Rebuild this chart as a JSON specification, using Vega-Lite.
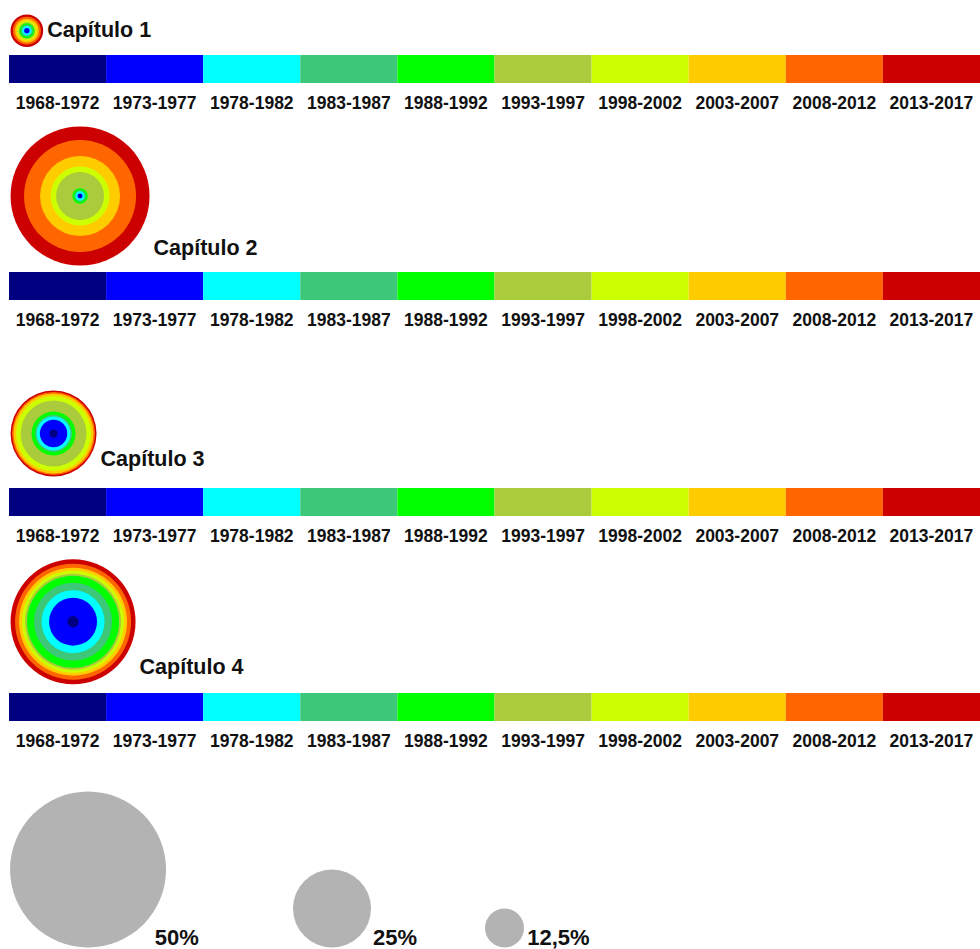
{
  "$schema": "https://vega.github.io/schema/vega-lite/v6.json",
  "background": "white",
  "padding": {"left": 9, "top": 0, "right": 0, "bottom": 0},
  "spacing": 0,
  "config": {
    "view": {"stroke": null},
    "concat": {"spacing": 0},
    "font": "Liberation Sans",
    "text": {"font": "Liberation Sans"}
  },
  "datasets": {
    "periodos": [
      {"periodo": "1968-1972"}, {"periodo": "1973-1977"}, {"periodo": "1978-1982"}, {"periodo": "1983-1987"}, {"periodo": "1988-1992"},
      {"periodo": "1993-1997"}, {"periodo": "1998-2002"}, {"periodo": "2003-2007"}, {"periodo": "2008-2012"}, {"periodo": "2013-2017"}
    ],
    "capitulos": [
      {"capitulo": "Capítulo 1", "periodo": "1968-1972", "acumulado": 0.51},
      {"capitulo": "Capítulo 1", "periodo": "1973-1977", "acumulado": 1.73},
      {"capitulo": "Capítulo 1", "periodo": "1978-1982", "acumulado": 3.08},
      {"capitulo": "Capítulo 1", "periodo": "1983-1987", "acumulado": 3.85},
      {"capitulo": "Capítulo 1", "periodo": "1988-1992", "acumulado": 4.81},
      {"capitulo": "Capítulo 1", "periodo": "1993-1997", "acumulado": 5.45},
      {"capitulo": "Capítulo 1", "periodo": "1998-2002", "acumulado": 6.22},
      {"capitulo": "Capítulo 1", "periodo": "2003-2007", "acumulado": 7.56},
      {"capitulo": "Capítulo 1", "periodo": "2008-2012", "acumulado": 8.97},
      {"capitulo": "Capítulo 1", "periodo": "2013-2017", "acumulado": 10.45},
      {"capitulo": "Capítulo 2", "periodo": "1968-1972", "acumulado": 0.83},
      {"capitulo": "Capítulo 2", "periodo": "1973-1977", "acumulado": 1.6},
      {"capitulo": "Capítulo 2", "periodo": "1978-1982", "acumulado": 3.01},
      {"capitulo": "Capítulo 2", "periodo": "1983-1987", "acumulado": 3.65},
      {"capitulo": "Capítulo 2", "periodo": "1988-1992", "acumulado": 4.94},
      {"capitulo": "Capítulo 2", "periodo": "1993-1997", "acumulado": 15.38},
      {"capitulo": "Capítulo 2", "periodo": "1998-2002", "acumulado": 18.91},
      {"capitulo": "Capítulo 2", "periodo": "2003-2007", "acumulado": 25.64},
      {"capitulo": "Capítulo 2", "periodo": "2008-2012", "acumulado": 35.9},
      {"capitulo": "Capítulo 2", "periodo": "2013-2017", "acumulado": 44.55},
      {"capitulo": "Capítulo 3", "periodo": "1968-1972", "acumulado": 2.56},
      {"capitulo": "Capítulo 3", "periodo": "1973-1977", "acumulado": 8.78},
      {"capitulo": "Capítulo 3", "periodo": "1978-1982", "acumulado": 10.9},
      {"capitulo": "Capítulo 3", "periodo": "1983-1987", "acumulado": 11.86},
      {"capitulo": "Capítulo 3", "periodo": "1988-1992", "acumulado": 14.1},
      {"capitulo": "Capítulo 3", "periodo": "1993-1997", "acumulado": 21.15},
      {"capitulo": "Capítulo 3", "periodo": "1998-2002", "acumulado": 24.04},
      {"capitulo": "Capítulo 3", "periodo": "2003-2007", "acumulado": 25.64},
      {"capitulo": "Capítulo 3", "periodo": "2008-2012", "acumulado": 26.6},
      {"capitulo": "Capítulo 3", "periodo": "2013-2017", "acumulado": 27.56},
      {"capitulo": "Capítulo 4", "periodo": "1968-1972", "acumulado": 3.65},
      {"capitulo": "Capítulo 4", "periodo": "1973-1977", "acumulado": 15.38},
      {"capitulo": "Capítulo 4", "periodo": "1978-1982", "acumulado": 20.19},
      {"capitulo": "Capítulo 4", "periodo": "1983-1987", "acumulado": 25.0},
      {"capitulo": "Capítulo 4", "periodo": "1988-1992", "acumulado": 29.49},
      {"capitulo": "Capítulo 4", "periodo": "1993-1997", "acumulado": 30.77},
      {"capitulo": "Capítulo 4", "periodo": "1998-2002", "acumulado": 32.69},
      {"capitulo": "Capítulo 4", "periodo": "2003-2007", "acumulado": 34.62},
      {"capitulo": "Capítulo 4", "periodo": "2008-2012", "acumulado": 37.18},
      {"capitulo": "Capítulo 4", "periodo": "2013-2017", "acumulado": 40.06}
    ],
    "escala": [
      {"etiqueta": "50%", "valor": 50},
      {"etiqueta": "25%", "valor": 25},
      {"etiqueta": "12,5%", "valor": 12.5}
    ]
  },
  "vconcat": [
    {
      "width": 971, "height": 55,
      "data": {"name": "capitulos"},
      "transform": [{"filter": "datum.capitulo === 'Capítulo 1'"}],
      "layer": [
        {
          "transform": [{"joinaggregate": [{"op": "max", "field": "acumulado", "as": "total"}]}],
          "mark": {"type": "point", "filled": true, "shape": "circle", "opacity": 1, "strokeWidth": 0},
          "encoding": {
            "x": {"field": "total", "type": "quantitative", "scale": {"domain": [-1, 621.4], "nice": false, "zero": false}, "axis": null},
            "y": {"field": "total", "type": "quantitative", "scale": {"domain": [-5.128, 30.128], "nice": false, "zero": false}, "axis": null},
            "size": {"field": "acumulado", "type": "quantitative", "scale": {"type": "pow", "exponent": 2, "domain": [0, 50], "range": [0, 24336]}, "legend": null},
            "color": {"field": "periodo", "type": "nominal", "legend": null, "scale": {"domain": ["1968-1972","1973-1977","1978-1982","1983-1987","1988-1992","1993-1997","1998-2002","2003-2007","2008-2012","2013-2017"], "range": ["#000080","#0000FF","#00FFFF","#3CC878","#00FF00","#AACC3C","#CCFF00","#FFCC00","#FF6600","#CC0000"]}},
            "order": {"field": "acumulado", "sort": "descending"}
          }
        },
        {
          "transform": [{"aggregate": [{"op": "max", "field": "acumulado", "as": "total"}], "groupby": ["capitulo"]}],
          "mark": {"type": "text", "align": "left", "baseline": "alphabetic", "dx": 4, "dy": -10, "fontSize": 21.5, "fontWeight": "bold", "color": "#111111"},
          "encoding": {
            "x": {"field": "total", "type": "quantitative", "scale": {"domain": [-0.5, 310.7], "nice": false, "zero": false}, "axis": null},
            "y": {"datum": 0, "type": "quantitative"},
            "text": {"field": "capitulo"}
          }
        }
      ],
      "resolve": {"scale": {"x": "independent"}}
    },
    {
      "width": 971, "height": 28,
      "data": {"name": "periodos"},
      "mark": {"type": "rect"},
      "encoding": {
        "x": {"field": "periodo", "type": "nominal", "scale": {"paddingInner": 0, "paddingOuter": 0},
              "axis": {"orient": "bottom", "title": null, "labelAngle": 0, "labelFontSize": 17.5, "labelFontWeight": "bold", "labelColor": "#111111", "labelPadding": 11, "ticks": false, "tickSize": 0, "domain": false, "labelOverlap": false, "labelFont": "Liberation Sans"}},
        "color": {"field": "periodo", "type": "nominal", "legend": null, "scale": {"domain": ["1968-1972","1973-1977","1978-1982","1983-1987","1988-1992","1993-1997","1998-2002","2003-2007","2008-2012","2013-2017"], "range": ["#000080","#0000FF","#00FFFF","#3CC878","#00FF00","#AACC3C","#CCFF00","#FFCC00","#FF6600","#CC0000"]}}
      }
    },
    {
      "width": 971, "height": 160,
      "data": {"name": "capitulos"},
      "transform": [{"filter": "datum.capitulo === 'Capítulo 2'"}],
      "layer": [
        {
          "transform": [{"joinaggregate": [{"op": "max", "field": "acumulado", "as": "total"}]}],
          "mark": {"type": "point", "filled": true, "shape": "circle", "opacity": 1, "strokeWidth": 0},
          "encoding": {
            "x": {"field": "total", "type": "quantitative", "scale": {"domain": [-1, 621.4], "nice": false, "zero": false}, "axis": null},
            "y": {"field": "total", "type": "quantitative", "scale": {"domain": [-4.167, 98.397], "nice": false, "zero": false}, "axis": null},
            "size": {"field": "acumulado", "type": "quantitative", "scale": {"type": "pow", "exponent": 2, "domain": [0, 50], "range": [0, 24336]}, "legend": null},
            "color": {"field": "periodo", "type": "nominal", "legend": null, "scale": {"domain": ["1968-1972","1973-1977","1978-1982","1983-1987","1988-1992","1993-1997","1998-2002","2003-2007","2008-2012","2013-2017"], "range": ["#000080","#0000FF","#00FFFF","#3CC878","#00FF00","#AACC3C","#CCFF00","#FFCC00","#FF6600","#CC0000"]}},
            "order": {"field": "acumulado", "sort": "descending"}
          }
        },
        {
          "transform": [{"aggregate": [{"op": "max", "field": "acumulado", "as": "total"}], "groupby": ["capitulo"]}],
          "mark": {"type": "text", "align": "left", "baseline": "alphabetic", "dx": 4, "dy": -10, "fontSize": 21.5, "fontWeight": "bold", "color": "#111111"},
          "encoding": {
            "x": {"field": "total", "type": "quantitative", "scale": {"domain": [-0.5, 310.7], "nice": false, "zero": false}, "axis": null},
            "y": {"datum": 0, "type": "quantitative"},
            "text": {"field": "capitulo"}
          }
        }
      ],
      "resolve": {"scale": {"x": "independent"}}
    },
    {
      "width": 971, "height": 28,
      "data": {"name": "periodos"},
      "mark": {"type": "rect"},
      "encoding": {
        "x": {"field": "periodo", "type": "nominal", "scale": {"paddingInner": 0, "paddingOuter": 0},
              "axis": {"orient": "bottom", "title": null, "labelAngle": 0, "labelFontSize": 17.5, "labelFontWeight": "bold", "labelColor": "#111111", "labelPadding": 11, "ticks": false, "tickSize": 0, "domain": false, "labelOverlap": false, "labelFont": "Liberation Sans"}},
        "color": {"field": "periodo", "type": "nominal", "legend": null, "scale": {"domain": ["1968-1972","1973-1977","1978-1982","1983-1987","1988-1992","1993-1997","1998-2002","2003-2007","2008-2012","2013-2017"], "range": ["#000080","#0000FF","#00FFFF","#3CC878","#00FF00","#AACC3C","#CCFF00","#FFCC00","#FF6600","#CC0000"]}}
      }
    },
    {
      "width": 971, "height": 159,
      "data": {"name": "capitulos"},
      "transform": [{"filter": "datum.capitulo === 'Capítulo 3'"}],
      "layer": [
        {
          "transform": [{"joinaggregate": [{"op": "max", "field": "acumulado", "as": "total"}]}],
          "mark": {"type": "point", "filled": true, "shape": "circle", "opacity": 1, "strokeWidth": 0},
          "encoding": {
            "x": {"field": "total", "type": "quantitative", "scale": {"domain": [-1, 621.4], "nice": false, "zero": false}, "axis": null},
            "y": {"field": "total", "type": "quantitative", "scale": {"domain": [-7.372, 94.551], "nice": false, "zero": false}, "axis": null},
            "size": {"field": "acumulado", "type": "quantitative", "scale": {"type": "pow", "exponent": 2, "domain": [0, 50], "range": [0, 24336]}, "legend": null},
            "color": {"field": "periodo", "type": "nominal", "legend": null, "scale": {"domain": ["1968-1972","1973-1977","1978-1982","1983-1987","1988-1992","1993-1997","1998-2002","2003-2007","2008-2012","2013-2017"], "range": ["#000080","#0000FF","#00FFFF","#3CC878","#00FF00","#AACC3C","#CCFF00","#FFCC00","#FF6600","#CC0000"]}},
            "order": {"field": "acumulado", "sort": "descending"}
          }
        },
        {
          "transform": [{"aggregate": [{"op": "max", "field": "acumulado", "as": "total"}], "groupby": ["capitulo"]}],
          "mark": {"type": "text", "align": "left", "baseline": "alphabetic", "dx": 4, "dy": -10, "fontSize": 21.5, "fontWeight": "bold", "color": "#111111"},
          "encoding": {
            "x": {"field": "total", "type": "quantitative", "scale": {"domain": [-0.5, 310.7], "nice": false, "zero": false}, "axis": null},
            "y": {"datum": 0, "type": "quantitative"},
            "text": {"field": "capitulo"}
          }
        }
      ],
      "resolve": {"scale": {"x": "independent"}}
    },
    {
      "width": 971, "height": 28,
      "data": {"name": "periodos"},
      "mark": {"type": "rect"},
      "encoding": {
        "x": {"field": "periodo", "type": "nominal", "scale": {"paddingInner": 0, "paddingOuter": 0},
              "axis": {"orient": "bottom", "title": null, "labelAngle": 0, "labelFontSize": 17.5, "labelFontWeight": "bold", "labelColor": "#111111", "labelPadding": 11, "ticks": false, "tickSize": 0, "domain": false, "labelOverlap": false, "labelFont": "Liberation Sans"}},
        "color": {"field": "periodo", "type": "nominal", "legend": null, "scale": {"domain": ["1968-1972","1973-1977","1978-1982","1983-1987","1988-1992","1993-1997","1998-2002","2003-2007","2008-2012","2013-2017"], "range": ["#000080","#0000FF","#00FFFF","#3CC878","#00FF00","#AACC3C","#CCFF00","#FFCC00","#FF6600","#CC0000"]}}
      }
    },
    {
      "width": 971, "height": 148,
      "data": {"name": "capitulos"},
      "transform": [{"filter": "datum.capitulo === 'Capítulo 4'"}],
      "layer": [
        {
          "transform": [{"joinaggregate": [{"op": "max", "field": "acumulado", "as": "total"}]}],
          "mark": {"type": "point", "filled": true, "shape": "circle", "opacity": 1, "strokeWidth": 0},
          "encoding": {
            "x": {"field": "total", "type": "quantitative", "scale": {"domain": [-1, 621.4], "nice": false, "zero": false}, "axis": null},
            "y": {"field": "total", "type": "quantitative", "scale": {"domain": [-5.641, 89.231], "nice": false, "zero": false}, "axis": null},
            "size": {"field": "acumulado", "type": "quantitative", "scale": {"type": "pow", "exponent": 2, "domain": [0, 50], "range": [0, 24336]}, "legend": null},
            "color": {"field": "periodo", "type": "nominal", "legend": null, "scale": {"domain": ["1968-1972","1973-1977","1978-1982","1983-1987","1988-1992","1993-1997","1998-2002","2003-2007","2008-2012","2013-2017"], "range": ["#000080","#0000FF","#00FFFF","#3CC878","#00FF00","#AACC3C","#CCFF00","#FFCC00","#FF6600","#CC0000"]}},
            "order": {"field": "acumulado", "sort": "descending"}
          }
        },
        {
          "transform": [{"aggregate": [{"op": "max", "field": "acumulado", "as": "total"}], "groupby": ["capitulo"]}],
          "mark": {"type": "text", "align": "left", "baseline": "alphabetic", "dx": 4, "dy": -10, "fontSize": 21.5, "fontWeight": "bold", "color": "#111111"},
          "encoding": {
            "x": {"field": "total", "type": "quantitative", "scale": {"domain": [-0.5, 310.7], "nice": false, "zero": false}, "axis": null},
            "y": {"datum": 0, "type": "quantitative"},
            "text": {"field": "capitulo"}
          }
        }
      ],
      "resolve": {"scale": {"x": "independent"}}
    },
    {
      "width": 971, "height": 28,
      "data": {"name": "periodos"},
      "mark": {"type": "rect"},
      "encoding": {
        "x": {"field": "periodo", "type": "nominal", "scale": {"paddingInner": 0, "paddingOuter": 0},
              "axis": {"orient": "bottom", "title": null, "labelAngle": 0, "labelFontSize": 17.5, "labelFontWeight": "bold", "labelColor": "#111111", "labelPadding": 11, "ticks": false, "tickSize": 0, "domain": false, "labelOverlap": false, "labelFont": "Liberation Sans"}},
        "color": {"field": "periodo", "type": "nominal", "legend": null, "scale": {"domain": ["1968-1972","1973-1977","1978-1982","1983-1987","1988-1992","1993-1997","1998-2002","2003-2007","2008-2012","2013-2017"], "range": ["#000080","#0000FF","#00FFFF","#3CC878","#00FF00","#AACC3C","#CCFF00","#FFCC00","#FF6600","#CC0000"]}}
      }
    },
    {
      "width": 912, "height": 198,
      "data": {"name": "escala"},
      "layer": [
        {
          "mark": {"type": "point", "filled": true, "shape": "circle", "opacity": 1, "color": "#B3B3B3", "strokeWidth": 0},
          "encoding": {
            "x": {"field": "valor", "type": "quantitative", "scale": {"type": "sqrt", "domain": [59.94, 0], "range": [0, 912], "nice": false, "zero": false}, "axis": null},
            "y": {"field": "valor", "type": "quantitative", "scale": {"domain": [-0.32, 126.6], "nice": false, "zero": false}, "axis": null},
            "size": {"field": "valor", "type": "quantitative", "scale": {"type": "pow", "exponent": 2, "domain": [0, 50], "range": [0, 24336]}, "legend": null}
          }
        },
        {
          "mark": {"type": "text", "align": "left", "baseline": "alphabetic", "dy": -3, "fontSize": 22, "fontWeight": "bold", "color": "#111111"},
          "encoding": {
            "x": {"field": "valor", "type": "quantitative", "scale": {"type": "sqrt", "domain": [71.5, 0], "range": [0, 890.5], "nice": false, "zero": false}, "axis": null},
            "y": {"datum": 0, "type": "quantitative"},
            "text": {"field": "etiqueta"}
          }
        }
      ],
      "resolve": {"scale": {"x": "independent"}}
    }
  ]
}
